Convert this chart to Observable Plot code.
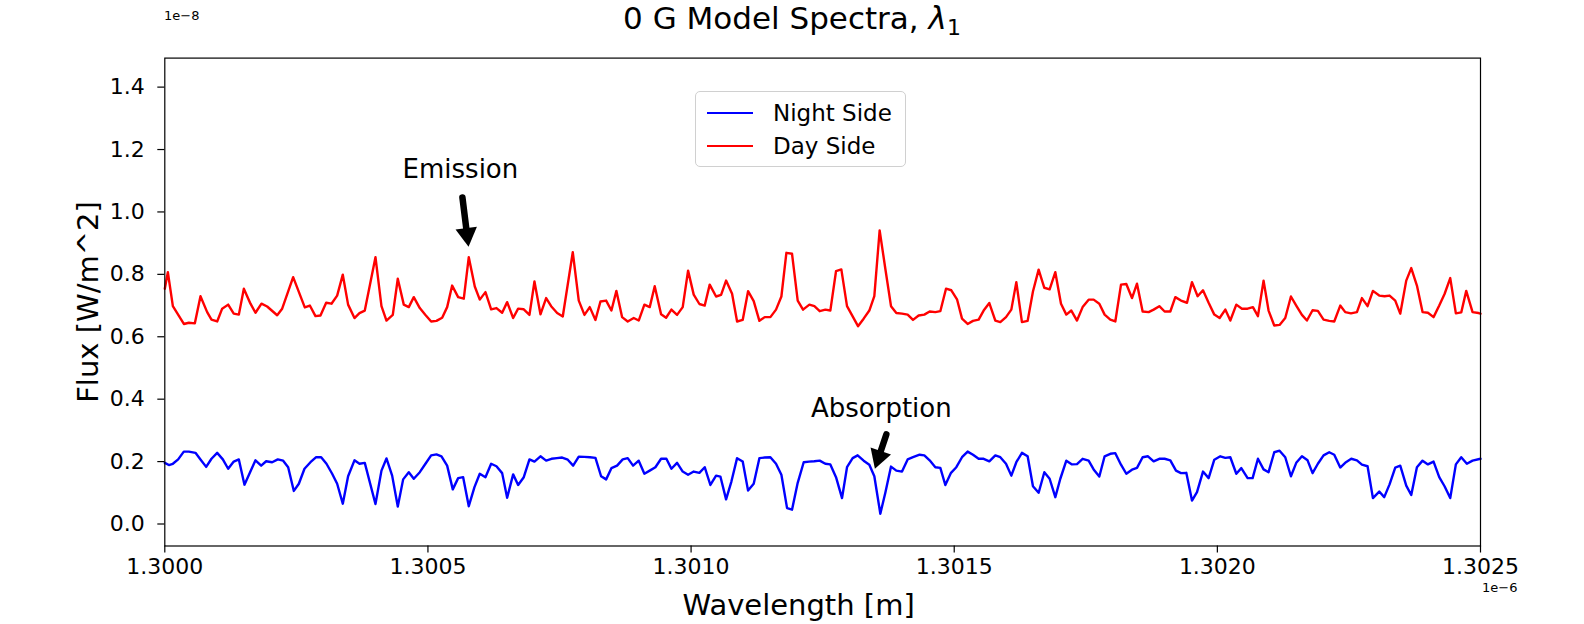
<!DOCTYPE html>
<html><head><meta charset="utf-8">
<script src="https://cdn.jsdelivr.net/npm/d3@7"></script>
<script src="https://cdn.jsdelivr.net/npm/@observablehq/plot@0.6"></script>
<style>
body{margin:0;background:#fff;font-family:"DejaVu Sans",sans-serif;}
#wrap{position:relative;width:1584px;height:624px;overflow:hidden;}
#wrap svg{position:absolute;left:0;top:0;}
.abs{position:absolute;white-space:nowrap;color:#000;}
#title{left:292px;width:1000px;top:-2px;text-align:center;font-size:31px;line-height:40px;}
#title sub{font-size:22px;vertical-align:-6px;line-height:0;}
.off{font-size:13px;line-height:15px;}
#legend{left:695px;top:91px;width:209px;height:74px;border:1px solid #d0d0d0;border-radius:5px;background:rgba(255,255,255,0.8);}
.lrow{position:absolute;left:0;height:30px;width:209px;}
.lline{position:absolute;left:11px;top:14px;width:46px;height:0;border-top:2.5px solid;}
.ltext{position:absolute;left:77px;top:1px;font-size:23px;line-height:28px;}
</style></head><body><div id="wrap"></div>
<script>
// wavelength in units of 1e-6 m, flux in units of 1e-8 W/m^2
const daySide = [
[1.3,0.754],[1.3000058,0.807],[1.3000153,0.698],[1.3000362,0.641],[1.3000457,0.645],[1.3000571,0.643],[1.3000678,0.730],[1.3000805,0.679],[1.3000887,0.655],[1.3000995,0.649],
[1.300109,0.690],[1.3001204,0.703],[1.300131,0.674],[1.3001407,0.671],[1.3001502,0.754],[1.3001628,0.706],[1.3001723,0.677],[1.3001837,0.706],[1.3001945,0.697],[1.3002135,0.669],
[1.300223,0.690],[1.3002439,0.791],[1.300266,0.694],[1.3002756,0.700],[1.3002863,0.666],[1.3002958,0.668],[1.3003066,0.709],[1.3003167,0.706],[1.3003275,0.732],[1.3003382,0.799],
[1.3003483,0.703],[1.3003604,0.660],[1.3003699,0.676],[1.30038,0.684],[1.3004003,0.855],[1.3004117,0.698],[1.3004212,0.652],[1.3004332,0.670],[1.3004427,0.786],[1.3004541,0.703],
[1.3004636,0.695],[1.3004731,0.727],[1.3004845,0.692],[1.3004953,0.670],[1.3005061,0.649],[1.3005162,0.651],[1.300527,0.661],[1.3005365,0.695],[1.300546,0.764],[1.3005574,0.727],
[1.3005681,0.722],[1.3005776,0.855],[1.300589,0.761],[1.3005985,0.719],[1.3006093,0.743],[1.3006201,0.688],[1.3006302,0.692],[1.300641,0.677],[1.3006505,0.711],[1.3006619,0.660],
[1.3006714,0.690],[1.3006821,0.688],[1.3006929,0.670],[1.3007024,0.777],[1.3007138,0.672],[1.3007246,0.724],[1.3007341,0.698],[1.3007455,0.676],[1.3007562,0.665],[1.3007752,0.871],
[1.3007866,0.716],[1.3007974,0.670],[1.3008075,0.695],[1.3008183,0.654],[1.3008278,0.713],[1.3008386,0.716],[1.3008486,0.684],[1.3008581,0.747],[1.3008689,0.663],[1.3008796,0.649],
[1.300891,0.660],[1.3009005,0.652],[1.3009113,0.703],[1.3009214,0.695],[1.3009309,0.762],[1.300943,0.672],[1.3009525,0.661],[1.3009626,0.687],[1.3009734,0.670],[1.3009841,0.695],
[1.3009943,0.812],[1.301005,0.735],[1.3010158,0.705],[1.3010259,0.700],[1.3010354,0.767],[1.3010475,0.729],[1.301057,0.734],[1.3010665,0.780],[1.3010779,0.738],[1.3010874,0.649],
[1.3010981,0.654],[1.3011083,0.746],[1.301119,0.714],[1.3011298,0.651],[1.3011399,0.663],[1.3011507,0.663],[1.3011614,0.687],[1.3011716,0.729],[1.3011811,0.869],[1.3011918,0.866],
[1.3012026,0.716],[1.3012127,0.687],[1.3012248,0.703],[1.3012343,0.698],[1.3012444,0.682],[1.3012551,0.687],[1.3012646,0.684],[1.3012754,0.810],[1.3012855,0.816],[1.3012963,0.698],
[1.3013172,0.634],[1.3013279,0.658],[1.3013387,0.684],[1.3013482,0.730],[1.3013583,0.941],[1.3013691,0.818],[1.3013799,0.698],[1.30139,0.676],[1.3014008,0.674],[1.3014115,0.671],
[1.3014217,0.654],[1.3014324,0.668],[1.3014432,0.671],[1.3014533,0.681],[1.3014641,0.679],[1.3014736,0.682],[1.3014844,0.754],[1.3014945,0.749],[1.3015053,0.720],[1.3015148,0.658],
[1.3015255,0.641],[1.3015357,0.651],[1.3015464,0.655],[1.3015559,0.684],[1.3015667,0.708],[1.3015781,0.652],[1.3015876,0.647],[1.3015984,0.663],[1.3016085,0.687],[1.301618,0.775],
[1.3016287,0.647],[1.3016395,0.651],[1.3016496,0.745],[1.3016604,0.815],[1.3016712,0.757],[1.3016813,0.752],[1.3016921,0.807],[1.3017029,0.706],[1.301713,0.671],[1.3017225,0.684],
[1.3017333,0.652],[1.301744,0.695],[1.3017554,0.719],[1.3017649,0.719],[1.3017757,0.706],[1.3017858,0.671],[1.3017966,0.655],[1.3018061,0.649],[1.3018169,0.767],[1.301827,0.769],
[1.3018378,0.724],[1.3018473,0.770],[1.301858,0.681],[1.3018694,0.679],[1.3018789,0.687],[1.3018897,0.698],[1.3018998,0.681],[1.3019106,0.681],[1.3019201,0.727],[1.3019309,0.716],
[1.3019423,0.709],[1.3019518,0.775],[1.3019625,0.730],[1.3019727,0.749],[1.3019834,0.709],[1.3019942,0.671],[1.3020043,0.660],[1.3020151,0.687],[1.3020246,0.652],[1.302036,0.703],
[1.3020467,0.690],[1.3020575,0.690],[1.3020676,0.695],[1.3020771,0.666],[1.3020878,0.780],[1.3020973,0.684],[1.3021081,0.636],[1.3021182,0.638],[1.302129,0.660],[1.3021398,0.729],
[1.3021499,0.700],[1.3021607,0.670],[1.3021702,0.652],[1.3021809,0.685],[1.302191,0.683],[1.3022018,0.655],[1.3022126,0.651],[1.3022221,0.649],[1.3022335,0.700],[1.302243,0.679],
[1.3022538,0.675],[1.3022652,0.679],[1.3022747,0.724],[1.3022854,0.698],[1.3022956,0.747],[1.3023076,0.732],[1.3023177,0.730],[1.3023272,0.732],[1.302338,0.716],[1.3023475,0.674],
[1.3023589,0.780],[1.3023684,0.820],[1.3023792,0.764],[1.3023899,0.679],[1.3024001,0.677],[1.3024108,0.663],[1.3024216,0.700],[1.3024317,0.737],[1.3024425,0.788],[1.3024532,0.675],
[1.3024634,0.678],[1.3024729,0.747],[1.3024849,0.679],[1.3024963,0.676],[1.3025,0.674]
];
const nightSide = [
[1.3,0.196],[1.3000077,0.189],[1.3000153,0.193],[1.3000254,0.207],[1.3000361,0.232],[1.3000457,0.232],[1.3000583,0.228],[1.3000678,0.207],[1.3000786,0.183],[1.3000887,0.209],
[1.3000995,0.228],[1.3001103,0.207],[1.3001204,0.177],[1.300131,0.200],[1.3001407,0.207],[1.3001514,0.126],[1.3001616,0.164],[1.3001723,0.204],[1.3001831,0.187],[1.3001926,0.201],
[1.300204,0.198],[1.3002147,0.207],[1.3002249,0.203],[1.3002344,0.182],[1.3002452,0.106],[1.3002547,0.129],[1.3002654,0.177],[1.3002768,0.198],[1.3002876,0.214],[1.3002971,0.214],
[1.3003072,0.193],[1.300318,0.161],[1.3003275,0.129],[1.3003382,0.065],[1.3003483,0.153],[1.3003604,0.204],[1.3003699,0.193],[1.30038,0.196],[1.3004003,0.064],[1.3004117,0.171],
[1.3004212,0.210],[1.300432,0.155],[1.3004427,0.056],[1.3004529,0.143],[1.3004636,0.166],[1.3004731,0.145],[1.3004845,0.166],[1.3004953,0.193],[1.3005061,0.220],[1.3005162,0.223],
[1.3005257,0.217],[1.3005365,0.187],[1.3005472,0.111],[1.3005574,0.147],[1.3005669,0.150],[1.3005776,0.057],[1.3005884,0.118],[1.3005985,0.161],[1.3006093,0.150],[1.3006201,0.193],
[1.3006302,0.185],[1.300641,0.163],[1.3006505,0.084],[1.3006619,0.159],[1.3006714,0.125],[1.3006821,0.150],[1.3006929,0.207],[1.3007024,0.200],[1.3007138,0.217],[1.3007246,0.203],
[1.3007347,0.209],[1.300745,0.211],[1.300755,0.213],[1.3007657,0.206],[1.3007759,0.187],[1.3007866,0.216],[1.300797,0.215],[1.300808,0.214],[1.3008183,0.212],[1.300829,0.153],
[1.3008386,0.143],[1.3008486,0.179],[1.3008594,0.187],[1.3008701,0.207],[1.3008796,0.211],[1.3008898,0.187],[1.3009005,0.203],[1.3009113,0.161],[1.3009214,0.171],[1.3009322,0.182],
[1.300943,0.209],[1.3009531,0.209],[1.3009626,0.177],[1.3009734,0.196],[1.3009841,0.168],[1.3009943,0.158],[1.301005,0.168],[1.3010158,0.164],[1.3010259,0.182],[1.3010367,0.125],
[1.3010475,0.155],[1.3010557,0.152],[1.3010665,0.079],[1.3010766,0.136],[1.3010874,0.211],[1.3010981,0.200],[1.3011083,0.107],[1.301119,0.129],[1.3011298,0.211],[1.30114,0.213],
[1.3011507,0.214],[1.3011614,0.193],[1.3011716,0.158],[1.3011824,0.051],[1.3011918,0.046],[1.3012026,0.132],[1.301214,0.198],[1.301224,0.200],[1.301234,0.201],[1.3012444,0.203],
[1.3012551,0.193],[1.3012646,0.191],[1.3012754,0.150],[1.3012868,0.083],[1.3012963,0.182],[1.301307,0.211],[1.3013165,0.220],[1.3013279,0.203],[1.3013387,0.190],[1.3013482,0.153],
[1.3013596,0.033],[1.3013691,0.100],[1.3013799,0.184],[1.30139,0.171],[1.3014008,0.168],[1.3014115,0.207],[1.3014217,0.214],[1.3014343,0.222],[1.3014432,0.220],[1.3014533,0.204],
[1.3014641,0.182],[1.3014736,0.180],[1.3014831,0.125],[1.3014939,0.164],[1.301504,0.182],[1.3015148,0.214],[1.3015255,0.232],[1.3015357,0.222],[1.3015464,0.209],[1.3015559,0.209],
[1.3015667,0.201],[1.3015781,0.220],[1.3015876,0.214],[1.3015984,0.193],[1.3016085,0.155],[1.301618,0.198],[1.3016287,0.228],[1.3016395,0.217],[1.3016496,0.121],[1.3016604,0.100],
[1.3016712,0.166],[1.3016813,0.145],[1.3016921,0.086],[1.3017016,0.145],[1.301713,0.203],[1.3017238,0.191],[1.3017333,0.192],[1.301744,0.209],[1.3017554,0.203],[1.3017649,0.175],
[1.3017757,0.152],[1.3017858,0.217],[1.3017966,0.225],[1.3018061,0.227],[1.3018169,0.190],[1.301827,0.161],[1.3018378,0.174],[1.3018473,0.180],[1.301858,0.214],[1.3018682,0.217],
[1.3018789,0.201],[1.3018897,0.209],[1.3018998,0.209],[1.3019106,0.204],[1.3019214,0.171],[1.3019309,0.163],[1.301941,0.164],[1.3019518,0.075],[1.3019613,0.102],[1.3019727,0.168],
[1.3019834,0.147],[1.3019942,0.206],[1.3020056,0.217],[1.3020151,0.212],[1.3020246,0.214],[1.302036,0.161],[1.3020455,0.179],[1.3020575,0.147],[1.302067,0.147],[1.3020771,0.209],
[1.3020878,0.175],[1.3020973,0.166],[1.3021081,0.230],[1.3021182,0.235],[1.302129,0.214],[1.3021398,0.153],[1.3021499,0.196],[1.3021607,0.217],[1.3021714,0.204],[1.3021809,0.163],
[1.302191,0.193],[1.3022018,0.220],[1.3022126,0.230],[1.3022221,0.222],[1.3022335,0.181],[1.3022443,0.198],[1.3022544,0.209],[1.3022652,0.204],[1.3022747,0.190],[1.3022854,0.185],
[1.3022956,0.083],[1.3023076,0.104],[1.3023171,0.086],[1.3023272,0.127],[1.302338,0.181],[1.3023475,0.187],[1.3023589,0.123],[1.3023684,0.093],[1.3023792,0.182],[1.3023899,0.203],
[1.3024001,0.191],[1.3024108,0.200],[1.3024216,0.150],[1.3024317,0.121],[1.3024425,0.083],[1.3024532,0.191],[1.3024634,0.214],[1.3024741,0.193],[1.3024849,0.203],[1.3025,0.209]
];
const xTicks = [1.3000, 1.3005, 1.3010, 1.3015, 1.3020, 1.3025];
const yTicks = [0.0, 0.2, 0.4, 0.6, 0.8, 1.0, 1.2, 1.4];
// annotation: label position, arrow tail, arrow tip
const annLabels = [
  {text: "Emission", x: 1.3005617, y: 1.136},
  {text: "Absorption", x: 1.3013615, y: 0.370}
];
const annArrows = [
  {x1: 1.3005655, y1: 1.0465, x2: 1.3005769, y2: 0.8926, rot: 172.9, dx: -1.4, dy: -11.1},
  {x1: 1.3013710, y1: 0.287, x2: 1.3013501, y2: 0.181, rot: 198.4, dx: 3.5, dy: -10.6}
];

const day = daySide.map(([w, f]) => ({w, f}));
const night = nightSide.map(([w, f]) => ({w, f}));

const chart = Plot.plot({
  width: 1584, height: 624,
  marginLeft: 164.3, marginRight: 104, marginTop: 57.6, marginBottom: 78.5,
  style: {fontFamily: "DejaVu Sans, sans-serif", fontSize: "22px", color: "black", background: "transparent", overflow: "visible"},
  x: {domain: [1.3, 1.3025]},
  y: {domain: [-0.0705, 1.493]},
  marks: [
    Plot.axisX({ticks: xTicks, tickFormat: d3.format(".4f"), tickSize: 7, tickPadding: 5, label: null, fontSize: 22, strokeWidth: 1.2}),
    Plot.axisY({ticks: yTicks, tickFormat: d3.format(".1f"), tickSize: 7, tickPadding: 13, label: null, fontSize: 22, strokeWidth: 1.2}),
    Plot.line(night, {x: "w", y: "f", stroke: "blue", strokeWidth: 2.4, strokeLinejoin: "round"}),
    Plot.line(day, {x: "w", y: "f", stroke: "red", strokeWidth: 2.4, strokeLinejoin: "round"}),
    Plot.frame({stroke: "black", strokeWidth: 1.2}),
    Plot.text(annLabels, {x: "x", y: "y", text: "text", fontSize: 26, fill: "black", lineAnchor: "middle"}),
    Plot.arrow(annArrows, {x1: "x1", y1: "y1", x2: "x2", y2: "y2", stroke: "black", strokeWidth: 6.5, headLength: 0, insetEnd: 11}),
    ...annArrows.map(a => Plot.dot([a], {x: "x2", y: "y2", symbol: "triangle", r: 8, fill: "black", stroke: "none", rotate: a.rot, dx: a.dx, dy: a.dy})),
    Plot.text(["Wavelength [m]"], {frameAnchor: "bottom", dx: -24, dy: 60, fontSize: 29, fill: "black", lineAnchor: "middle"}),
    Plot.text(["Flux [W/m^2]"], {frameAnchor: "left", dx: -76, rotate: -90, fontSize: 29, fill: "black", textAnchor: "middle", lineAnchor: "middle"})
  ]
});
const wrap = document.getElementById("wrap");
wrap.appendChild(chart);
wrap.insertAdjacentHTML("beforeend", `
<div class="abs" id="title">0 G Model Spectra, <i>λ</i><sub>1</sub></div>
<div class="abs off" style="left:164px;top:8px;">1e−8</div>
<div class="abs off" style="left:1482px;top:580px;">1e−6</div>
<div class="abs" id="legend">
  <div class="lrow" style="top:6px;"><div class="lline" style="border-color:blue"></div><div class="ltext">Night Side</div></div>
  <div class="lrow" style="top:39px;"><div class="lline" style="border-color:red"></div><div class="ltext">Day Side</div></div>
</div>`);
</script>
</body></html>
